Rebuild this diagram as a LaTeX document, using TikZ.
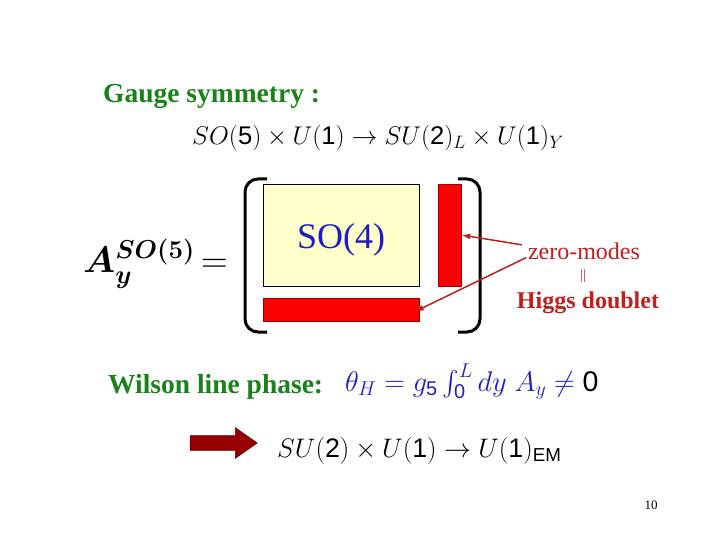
\RequirePackage{fix-cm}
\documentclass[tikz,border=0pt]{standalone}
\usepackage[no-math]{fontspec}
\setmainfont{Liberation Serif}
\setsansfont{Liberation Sans}
\usepackage{amsmath}
\usetikzlibrary{positioning,arrows.meta,shapes.arrows}
\usepackage{xcolor}
\definecolor{SlideGreen}{RGB}{25,130,25}
\definecolor{SlideBlue}{RGB}{30,30,190}
\definecolor{SlideRed}{RGB}{195,30,30}
\definecolor{BarRed}{RGB}{250,0,0}
\definecolor{BoxYellow}{RGB}{255,255,204}
\definecolor{ArrowRed}{RGB}{150,0,0}
\newcommand{\sd}[1]{\textsf{#1}}

\begin{document}
\begin{tikzpicture}[
x=1pt,y=-1pt,
title/.style={anchor=base west,text=SlideGreen,font=\fontsize{27.5}{32}\selectfont\bfseries,inner sep=0},
formula/.style={anchor=base west,inner sep=0,font=\fontsize{25.6}{30}\selectfont},
blockbox/.style={rectangle,draw=black,line width=0.6pt,fill=BoxYellow,minimum width=156,minimum height=102},
bar/.style={rectangle,draw=ArrowRed,line width=0.5pt,fill=BarRed},
note/.style={text=SlideRed,inner sep=0,font=\fontsize{24}{28}\selectfont},
bracket/.style={line width=3pt,rounded corners=13},
zmarrow/.style={-{Latex[length=9pt,width=6pt]},line width=1.5pt,draw=SlideRed}
]
\useasboundingbox (0,0) rectangle (720,540);
% gauge symmetry
\node[title] (gauge) at (103,103) {Gauge symmetry :};
\node[formula] (breakone) at (192,145) {$SO(\sd{5})\times U(\sd{1})\to SU(\sd{2})_L\times U(\sd{1})_Y$};
% the matrix
\node[anchor=base west,inner sep=0,font=\fontsize{37}{41}\selectfont] (ay) at (83,272) {{\boldmath$A_y^{SO(5)}$}$\,=$};
\node[blockbox] (block) at (341,235) {};
\node[text=SlideBlue,font=\fontsize{36}{40}\selectfont] (so4) at ([yshift=-5]block.center) {SO(4)};
\node[bar,minimum width=23,minimum height=102] (vbar) at (449.5,235) {};
\node[bar,minimum width=156,minimum height=23] (hbar) at (341,309.5) {};
\draw[bracket] (267,179) -- (245,179) -- (245,332) -- (267,332);
\draw[bracket] (458,179) -- (480,179) -- (480,332) -- (458,332);
% zero-modes
\node[note,anchor=base] (zm) at (584,259) {zero-modes};
\node[note,font=\fontsize{14}{16}\selectfont] (eq) at (583,276) {||};
\node[note,anchor=base,font=\fontsize{24}{28}\selectfont\bfseries] (higgs) at (588,308) {Higgs doublet};
\draw[zmarrow,shorten <=6pt] ([yshift=5]zm.west) -- (vbar.east);
\draw[zmarrow,shorten <=2pt,shorten >=-5pt] ([yshift=-6]zm.west) -- (hbar.east);
% wilson line
\node[title] (wilson) at (108,393) {Wilson line phase:};
\node[formula,font=\fontsize{28.5}{33}\selectfont,text=SlideBlue] (theta) at (345,391) {$\theta_H = g_{\sd{5}}\int_{\sd{0}}^{L} dy\;A_y \neq \textcolor{black}{\sd{0}}$};
\node[single arrow,draw=ArrowRed!70!black,fill=ArrowRed,line width=0.6pt,inner sep=0,
  minimum height=67,text width=0,text height=14,single arrow head extend=8,
  single arrow tip angle=70] (fat) at (218.5,443) {};
\node[formula,font=\fontsize{26.8}{31}\selectfont] (breaktwo) at (277,457) {$SU(\sd{2})\times U(\sd{1})\to U(\sd{1})_{\sd{EM}}$};
\node[font=\fontsize{13}{15}\selectfont] (page) at (651,505) {10};
\end{tikzpicture}
\end{document}
